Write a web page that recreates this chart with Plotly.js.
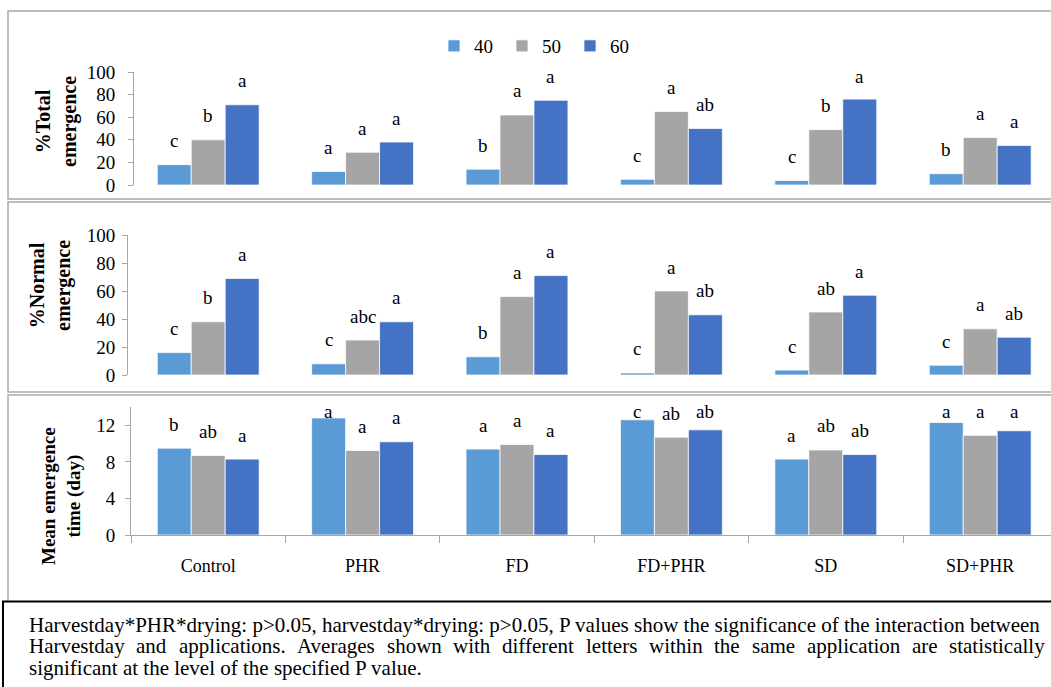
<!DOCTYPE html>
<html>
<head>
<meta charset="utf-8">
<script src="https://cdn.plot.ly/plotly-3.0.1.min.js"></script>
<style>
  html, body { margin: 0; padding: 0; background: #ffffff; }
  #chart { width: 1051px; height: 687px; }
</style>
</head>
<body>
<div id="chart"></div>
<script>
// ---- data ----
const categories = ['Control', 'PHR', 'FD', 'FD+PHR', 'SD', 'SD+PHR'];
const seriesNames = ['40', '50', '60'];

// % total emergence
const total40 = [18, 12, 14, 5, 4, 10];
const total50 = [40, 29, 62, 65, 49, 42];
const total60 = [71, 38, 75, 50, 76, 35];
const totalLetters40 = ['c', 'a', 'b', 'c', 'c', 'b'];
const totalLetters50 = ['b', 'a', 'a', 'a', 'b', 'a'];
const totalLetters60 = ['a', 'a', 'a', 'ab', 'a', 'a'];

// % normal emergence
const normal40 = [16, 8, 13, 1.5, 3.5, 7];
const normal50 = [38, 25, 56, 60, 45, 33];
const normal60 = [69, 38, 71, 43, 57, 27];
const normalLetters40 = ['c', 'c', 'b', 'c', 'c', 'c'];
const normalLetters50 = ['b', 'abc', 'a', 'a', 'ab', 'a'];
const normalLetters60 = ['a', 'a', 'a', 'ab', 'a', 'ab'];

// mean emergence time (day)
const time40 = [9.5, 12.8, 9.4, 12.6, 8.3, 12.3];
const time50 = [8.7, 9.25, 9.9, 10.7, 9.3, 10.9];
const time60 = [8.3, 10.2, 8.8, 11.5, 8.8, 11.4];
const timeLetters40 = ['b', 'a', 'a', 'c', 'a', 'a'];
const timeLetters50 = ['ab', 'a', 'a', 'ab', 'ab', 'a'];
const timeLetters60 = ['a', 'a', 'a', 'ab', 'ab', 'a'];

const yTitles = ['%Total<br>emergence', '%Normal<br>emergence', 'Mean emergence<br>time (day)'];
const captionLines = [
  'Harvestday*PHR*drying: p>0.05, harvestday*drying: p>0.05, P values show the significance of the interaction between',
  'Harvestday and applications. Averages shown with different letters within the same application are statistically',
  'significant at the level of the specified P value.'
];

// ---- layout constants (pixels) ----
const W = 1051, H = 687;
const SERIF = 'Liberation Serif, Times New Roman, serif';
const COLORS = ['#5B9BD5', '#A5A5A5', '#4472C4'];
const AXIS_GREY = '#a6a6a6';
const BOX_GREY = '#a9a9a9';
const CAT_LEFT = 131;      // left boundary of first category
const CAT_STEP = 154.4;    // width of one category
const BARGAP = 0.34;
const fx = px => px / W;
const fy = py => 1 - py / H;

const panels = [
  { axisX: 134, top: 72,  bottom: 185, range: [0, 100], tickvals: [0, 20, 40, 60, 80, 100], standoff: 9,
    values: [total40, total50, total60], letters: [totalLetters40, totalLetters50, totalLetters60],
    title: yTitles[0], titleX: 56, titleY: 122, titleSize: 20 },
  { axisX: 128, top: 235, bottom: 375, range: [0, 100], tickvals: [0, 20, 40, 60, 80, 100], standoff: 3,
    values: [normal40, normal50, normal60], letters: [normalLetters40, normalLetters50, normalLetters60],
    title: yTitles[1], titleX: 50, titleY: 286, titleSize: 20 },
  { axisX: 131, top: 407, bottom: 535, range: [0, 14], tickvals: [0, 4, 8, 12], standoff: 6,
    values: [time40, time50, time60], letters: [timeLetters40, timeLetters50, timeLetters60],
    title: yTitles[2], titleX: 61, titleY: 496, titleSize: 19 }
];

const traces = [];
const annotations = [];
const layout = {
  width: W, height: H,
  margin: { l: 0, r: 0, t: 0, b: 0, pad: 0 },
  paper_bgcolor: '#ffffff', plot_bgcolor: 'rgba(0,0,0,0)',
  barmode: 'group', bargap: BARGAP, bargroupgap: 0,
  font: { family: SERIF, size: 19, color: '#000000' },
  showlegend: true,
  legend: {
    orientation: 'h', x: fx(434), xanchor: 'left', y: fy(46), yanchor: 'middle',
    font: { family: SERIF, size: 19, color: '#000000' },
    bgcolor: 'rgba(0,0,0,0)', traceorder: 'normal', itemwidth: 30, entrywidth: 23
  },
  annotations: annotations,
  shapes: []
};

const barUnit = (1 - BARGAP) / 3;

panels.forEach((p, k) => {
  const n = k === 0 ? '' : String(k + 1);
  const xa = 'xaxis' + n, ya = 'yaxis' + n;
  const isLast = k === panels.length - 1;
  layout[xa] = {
    domain: [fx(p.axisX), 1],
    range: [-0.5 + (p.axisX - CAT_LEFT) / CAT_STEP, -0.5 + (W - CAT_LEFT) / CAT_STEP],
    type: 'category', anchor: 'y' + n,
    showgrid: false, zeroline: false,
    showline: isLast, linecolor: AXIS_GREY, linewidth: 1,
    ticks: isLast ? 'outside' : '', tickson: 'boundaries', ticklen: 7, tickcolor: AXIS_GREY,
    showticklabels: isLast, tickfont: { family: SERIF, size: 18, color: '#000000' },
    ticklabelstandoff: 14, fixedrange: true
  };
  layout[ya] = {
    domain: [fy(p.bottom), fy(p.top)],
    range: p.range, anchor: 'x' + n,
    showgrid: false, zeroline: false,
    showline: true, linecolor: AXIS_GREY, linewidth: 1,
    ticks: 'outside', ticklen: 5, tickcolor: AXIS_GREY,
    tickvals: p.tickvals, ticktext: p.tickvals.map(String),
    tickfont: { family: SERIF, size: 19, color: '#000000' },
    ticklabelstandoff: p.standoff, fixedrange: true
  };

  p.values.forEach((vals, s) => {
    traces.push({
      type: 'bar', x: categories, y: vals, name: seriesNames[s],
      xaxis: 'x' + n, yaxis: 'y' + n,
      marker: { color: COLORS[s], line: { color: 'rgba(255,255,255,0.75)', width: 1 } },
      showlegend: k === 0, hoverinfo: 'skip'
    });
  });

  // significance letters above each bar, kept inside the plot area
  const plotH = p.bottom - p.top;
  const perPx = (p.range[1] - p.range[0]) / plotH;
  p.letters.forEach((lets, s) => {
    lets.forEach((txt, i) => {
      const v = p.values[s][i];
      const yLab = Math.min(v + 22 * perPx, p.range[1] - 6 * perPx);
      annotations.push({
        xref: 'x' + n, yref: 'y' + n,
        x: i + (s - 1) * barUnit, y: yLab,
        text: txt, showarrow: false, xanchor: 'center', yanchor: 'middle', yshift: 2,
        font: { family: SERIF, size: 19, color: '#000000' }
      });
    });
  });

  // y-axis title
  annotations.push({
    xref: 'paper', yref: 'paper', x: fx(p.titleX), y: fy(p.titleY),
    text: '<b>' + p.title + '</b>', showarrow: false, textangle: -90,
    xanchor: 'center', yanchor: 'middle',
    font: { family: SERIF, size: p.titleSize, color: '#000000' }
  });
});

// panel frames and the caption box
layout.shapes.push(
  { type: 'rect', xref: 'paper', yref: 'paper', x0: fx(8), x1: fx(1070), y0: fy(11), y1: fy(199),
    line: { color: BOX_GREY, width: 1.5 }, fillcolor: 'rgba(0,0,0,0)', layer: 'below' },
  { type: 'rect', xref: 'paper', yref: 'paper', x0: fx(8), x1: fx(1070), y0: fy(202), y1: fy(392),
    line: { color: BOX_GREY, width: 1.5 }, fillcolor: 'rgba(0,0,0,0)', layer: 'below' },
  { type: 'rect', xref: 'paper', yref: 'paper', x0: fx(8), x1: fx(1070), y0: fy(395), y1: fy(605),
    line: { color: BOX_GREY, width: 1.5 }, fillcolor: 'rgba(0,0,0,0)', layer: 'below' },
  { type: 'rect', xref: 'paper', yref: 'paper', x0: fx(3), x1: fx(1070), y0: fy(601.5), y1: fy(720),
    line: { color: '#000000', width: 2 }, fillcolor: '#ffffff', layer: 'above' }
);

// caption: lines with natural spacing are single texts; the middle line is justified word by word
(function addCaption() {
  const left = 28, right = 1044, avail = right - left;
  const baselines = [632, 653.5, 675];
  const justified = [false, true, false];
  // measure with an SVG text node so the same font resolution as the chart is used
  const NS = 'http://www.w3.org/2000/svg';
  const svg = document.createElementNS(NS, 'svg');
  svg.setAttribute('width', '10'); svg.setAttribute('height', '10');
  svg.style.position = 'absolute'; svg.style.left = '-2000px'; svg.style.top = '0';
  const probe = document.createElementNS(NS, 'text');
  probe.setAttribute('x', '0'); probe.setAttribute('y', '20');
  probe.style.fontFamily = SERIF; probe.style.whiteSpace = 'pre';
  svg.appendChild(probe); document.body.appendChild(svg);
  const measure = (s, fs) => { probe.style.fontSize = fs + 'px'; probe.textContent = s; return probe.getComputedTextLength(); };
  const size = Math.floor(Math.min(21, 21 * avail / measure(captionLines[0], 21)) * 10) / 10;
  const addText = (text, x, li) => annotations.push({
    xref: 'paper', yref: 'paper', x: fx(x), y: fy(baselines[li] - size * 0.34),
    text: text, showarrow: false, xanchor: 'left', yanchor: 'middle', align: 'left', borderpad: 0,
    font: { family: SERIF, size: size, color: '#000000' }
  });
  captionLines.forEach((line, li) => {
    if (!justified[li]) { addText(line, left, li); return; }
    const words = line.split(' ');
    const widths = words.map(w => measure(w, size));
    const sum = widths.reduce((a, b) => a + b, 0);
    const gap = (avail - sum) / (words.length - 1);
    let x = left;
    words.forEach((w, wi) => { addText(w, x, li); x += widths[wi] + gap; });
  });
  document.body.removeChild(svg);
})();

Plotly.newPlot('chart', traces, layout, { displayModeBar: false, staticPlot: true });
</script>
</body>
</html>
